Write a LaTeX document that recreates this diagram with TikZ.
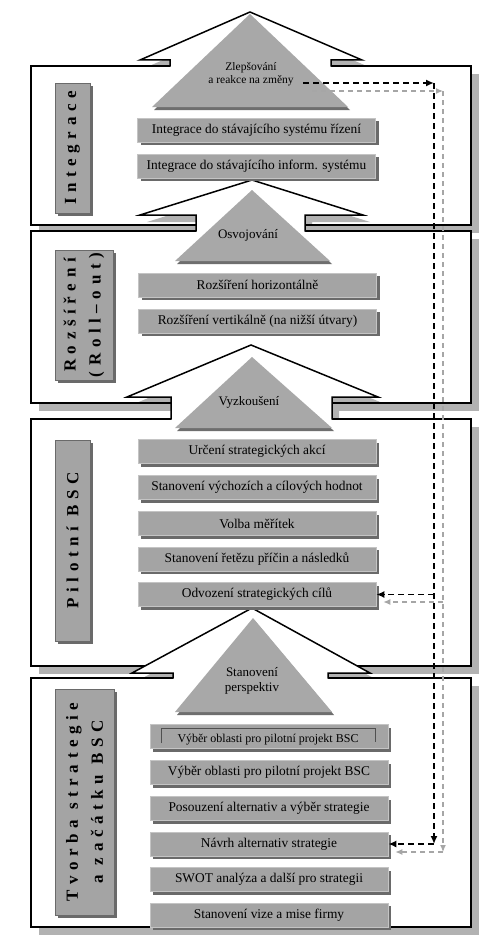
\documentclass[tikz,border=0pt]{standalone}
\usepackage{fontspec}
\setmainfont{Liberation Serif}
\usetikzlibrary{shadows,arrows.meta}
\definecolor{frsh}{HTML}{B2B2B2}
\definecolor{trifill}{HTML}{A8A8A8}
\definecolor{trish}{HTML}{6E6E6E}
\definecolor{boxfill}{HTML}{A4A4A4}
\definecolor{boxedge}{HTML}{C4C4C4}
\definecolor{boxsh}{HTML}{6A6A6A}
\definecolor{gdash}{HTML}{A6A6A6}
\definecolor{inner}{HTML}{505050}
\tikzset{
 frameline/.style={draw=black,line width=1.5pt},
 stepbox/.style={fill=boxfill,draw=boxedge,line width=0.6pt,minimum width=238pt,minimum height=24pt,inner sep=0pt,font=\fontsize{13.4}{15}\selectfont,drop shadow={shadow xshift=3pt,shadow yshift=-3pt,fill=boxsh,opacity=1}},
 sidebox/.style={fill=boxfill,draw=boxsh,line width=0.6pt,inner sep=0pt,drop shadow={shadow xshift=3pt,shadow yshift=-3pt,fill=boxsh,opacity=1}},
 sidetext/.style={rotate=90,align=center,inner sep=0pt,font=\fontsize{17}{25}\selectfont\bfseries\addfontfeature{LetterSpace=33}},
 tritext/.style={align=center,inner sep=0pt,font=\fontsize{13}{15}\selectfont},
 bdash/.style={draw=black,line width=1.7pt,dash pattern=on 6pt off 4pt,-{Latex[length=8pt,width=7pt]}},
 gdashst/.style={draw=gdash,line width=1.2pt,dash pattern=on 5pt off 4pt,-{Latex[length=7pt,width=6pt]}},
}
\begin{document}
\begin{tikzpicture}[x=1pt,y=-1pt]
\useasboundingbox (0,0) rectangle (500,950);
% frames: shadows and white fills
\foreach \t/\b in {66/225, 231/403, 419/666, 678/927}{
  \fill[frsh] (39,\t+8) rectangle (479,\b+8);
  \fill[white] (31,\t) rectangle (471,\b);
}
% arrow shadows
\foreach \b/\l/\h/\tl/\ax/\ay/\tr/\r in {66/170/60/140/250/12/362/331, 231/196/215/140/252/180/363/305, 419/171/397/127/251/345/378/332, 678/173/673/132/252/608/370/328}{
  \begin{scope}
    \clip (0,0) rectangle (500,\b);
    \fill[frsh,xshift=7pt,yshift=-7pt] (\l,\b) -- (\l,\h) -- (\tl,\h) -- (\ax,\ay) -- (\tr,\h) -- (\r,\h) -- (\r,\b) -- cycle;
  \end{scope}
}
% frame borders
\foreach \t/\b in {66/225, 231/403, 419/666, 678/927}{
  \draw[frameline] (31,\t) rectangle (471,\b);
}
% arrows
\foreach \b/\l/\h/\tl/\ax/\ay/\tr/\r in {66/170/60/140/250/12/362/331, 231/196/215/140/252/180/363/305, 419/171/397/127/251/345/378/332, 678/173/673/132/252/608/370/328}{
  \fill[white] (\l,\b+1.3) -- (\l,\h) -- (\tl,\h) -- (\ax,\ay) -- (\tr,\h) -- (\r,\h) -- (\r,\b+1.3) -- cycle;
  \draw[frameline] (\l,\b+0.7) -- (\l,\h) -- (\tl,\h) -- (\ax,\ay) -- (\tr,\h) -- (\r,\h) -- (\r,\b+0.7);
}
% gray triangles
\foreach \ax/\ay/\bl/\br/\by in {250/14/152/348/107, 252/190/175/330/261, 252/357/175/332/428, 253/618/175/332/712}{
  \fill[trish,xshift=2pt,yshift=-3pt] (\ax,\ay) -- (\br,\by) -- (\bl,\by) -- cycle;
  \fill[trifill] (\ax,\ay) -- (\br,\by) -- (\bl,\by) -- cycle;
}
\node[tritext,font=\fontsize{11.5}{13}\selectfont] (zl) at (251,74.5) {Zlepšování\\a reakce na změny};
\node[tritext] (osv) at (248,235) {Osvojování};
\node[tritext] (vyz) at (249,402) {Vyzkoušení};
\node[tritext] (stp) at (252,680.5) {Stanovení\\perspektiv};
% Integrace boxes
\node[stepbox] (i1) at (256.5,130) {Integrace do stávajícího systému řízení};
\node[stepbox] (i2) at (256.5,166) {Integrace do stávajícího inform. systému};
% Rozsireni boxes
\node[stepbox] (r1) at (257.5,285) {Rozšíření horizontálně};
\node[stepbox] (r2) at (257.5,321) {Rozšíření vertikálně (na nižší útvary)};
% Pilotni boxes
\node[stepbox] (p1) at (257,451.5) {Určení strategických akcí};
\node[stepbox] (p2) at (257,487.5) {Stanovení výchozích a cílových hodnot};
\node[stepbox] (p3) at (257,523.5) {Volba měřítek};
\node[stepbox] (p4) at (257,559) {Stanovení řetězu příčin a následků};
\node[stepbox] (odv) at (257,594.5) {Odvození strategických cílů};
% Tvorba boxes
\node[stepbox] (t1) at (269,736.5) {};
\begin{scope}
  \clip (150,724.5) rectangle (388,745);
  \node[anchor=base,inner sep=0pt,font=\fontsize{12}{14}\selectfont] (t1text) at (268,742.5) {Výběr oblasti pro pilotní projekt BSC};
\end{scope}
\draw[inner,line width=0.7pt] (161,743) -- (161,728.5) -- (375,728.5);
\draw[inner,line width=1.4pt] (375.5,728) -- (375.5,742);
\node[stepbox] (t2) at (269,772.5) {Výběr oblasti pro pilotní projekt BSC};
\node[stepbox] (t3) at (269,808.5) {Posouzení alternativ a výběr strategie};
\node[stepbox] (navrh) at (269,844) {Návrh alternativ strategie};
\node[stepbox] (t5) at (269,879.5) {SWOT analýza a další pro strategii};
\node[stepbox] (t6) at (269,915) {Stanovení vize a mise firmy};
% side labels
\node[sidebox,minimum width=35pt,minimum height=130pt] (sb1) at (72.5,148) {};
\node[sidetext] (sl1) at (sb1.center) {Integrace};
\node[sidebox,minimum width=58pt,minimum height=130pt] (sb2) at (84,315) {};
\node[sidetext] (sl2) at (sb2.center) {Rozšíření\\(Roll–out)};
\node[sidebox,minimum width=35pt,minimum height=201pt] (sb3) at (72.5,540.5) {};
\node[sidetext] (sl3) at (sb3.center) {Pilotní BSC};
\node[sidebox,minimum width=59pt,minimum height=226pt] (sb4) at (84.5,802) {};
\node[sidetext] (sl4) at (sb4.center) {Tvorba strategie\\a začátku BSC};
% gray dashed feedback
\coordinate (gstart) at (312,91);
\coordinate (gc1) at (443,91);
\coordinate (gc2) at (443,852);
\coordinate (gc3) at (443,602);
\draw[gdashst] (gstart) -- (gc1);
\draw[gdashst] (gc1) -- (gc2);
\draw[gdashst] (gc2) -- ([xshift=7pt,yshift=-8pt]navrh.east);
\draw[gdashst] (gc3) -- ([xshift=7pt,yshift=-7.5pt]odv.east);
% black dashed feedback
\coordinate (bstart) at (303,83);
\coordinate (bc1) at (434,83);
\coordinate (bc2) at (434,844);
\coordinate (bc3) at (434,594.5);
\draw[bdash] (bstart) -- (bc1);
\draw[bdash] (bc1) -- (bc2);
\draw[bdash] (bc2) -- (navrh.east);
\draw[bdash] (bc3) -- (odv.east);
\end{tikzpicture}
\end{document}
